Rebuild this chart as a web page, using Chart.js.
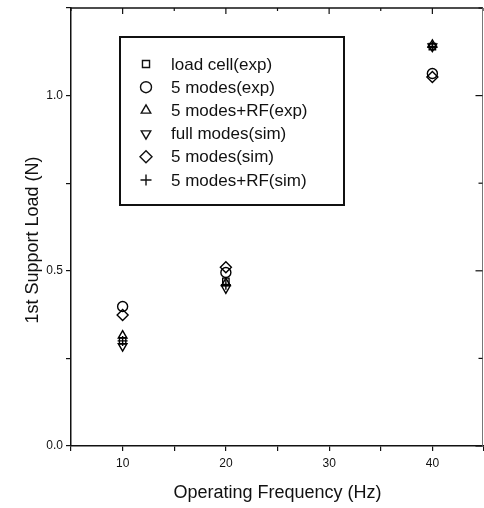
<!DOCTYPE html>
<html>
<head>
<meta charset="utf-8">
<script src="https://cdn.jsdelivr.net/npm/chart.js@4/dist/chart.umd.min.js"></script>
<style>
  html, body { margin: 0; padding: 0; background: #fff; }
  #wrap { width: 484px; height: 508px; }
</style>
</head>
<body>
<div id="wrap"><canvas id="grafico"></canvas></div>
<script>
// values
const freqs = [10, 20, 40];
const loadCellExp = [0.30, 0.47, 1.14];
const modes5Exp = [0.398, 0.495, 1.063];
const modes5RfExp = [0.315, 0.465, 1.145];
const fullModesSim = [0.285, 0.45, 1.14];
const modes5Sim = [0.374, 0.51, 1.053];
const modes5RfSim = [0.30, 0.46, 1.14];

const seriesNames = ["load cell(exp)", "5 modes(exp)", "5 modes+RF(exp)",
  "full modes(sim)", "5 modes(sim)", "5 modes+RF(sim)"];
const seriesValues = [loadCellExp, modes5Exp, modes5RfExp, fullModesSim, modes5Sim, modes5RfSim];
const styles = ["rect", "circle", "triangle", "triangle", "rectRot", "cross"];
const rotations = [0, 0, 0, 180, 0, 0];
const radii = [4.5, 5, 5, 5, 5.5, 5];

const xTickLabels = [10, 20, 30, 40];
const yTickLabels = [0.0, 0.5, 1.0];
const yTitle = "1st Support Load (N)";

const FONT = "'Liberation Sans', Arial, sans-serif";

function pts(vals) {
  return freqs.map((f, i) => ({ x: f, y: vals[i] }));
}

const datasets = seriesValues.map((vals, i) => ({
  label: seriesNames[i],
  data: pts(vals),
  pointStyle: styles[i],
  rotation: rotations[i],
  pointRadius: radii[i],
  pointBorderWidth: 1.4,
  borderColor: "#000",
  backgroundColor: "rgba(0,0,0,0)",
  showLine: false,
}));

// frame, inner ticks on top/right, y title and the boxed legend
const framePlugin = {
  id: "frame",
  afterDraw(chart) {
    const { ctx, chartArea: a, scales } = chart;
    ctx.save();
    ctx.strokeStyle = "#111";
    ctx.lineWidth = 1.5;
    ctx.beginPath();
    ctx.moveTo(a.left, a.top);
    ctx.lineTo(a.right - 1, a.top);
    ctx.stroke();
    ctx.strokeStyle = "#777";
    ctx.lineWidth = 1;
    ctx.beginPath();
    ctx.moveTo(a.right - 1.5, a.top);
    ctx.lineTo(a.right - 1.5, a.bottom);
    ctx.stroke();
    ctx.strokeStyle = "#111";
    ctx.lineWidth = 1.2;
    for (let v = 5; v <= 45; v += 5) {
      const px = scales.x.getPixelForValue(v);
      ctx.beginPath();
      ctx.moveTo(px, a.top);
      ctx.lineTo(px, a.top + (v % 10 === 0 ? 6 : 3));
      ctx.stroke();
    }
    for (let v = 0; v <= 1.25; v += 0.25) {
      const py = scales.y.getPixelForValue(v);
      ctx.beginPath();
      ctx.moveTo(a.right - 1.5, py);
      ctx.lineTo(a.right - 1.5 - (Math.abs(v * 2 - Math.round(v * 2)) < 1e-6 ? 7 : 4), py);
      ctx.stroke();
    }

    // y axis title, sits a bit below the middle of the axis
    ctx.save();
    ctx.translate(33, 240);
    ctx.rotate(-Math.PI / 2);
    ctx.font = "18px " + FONT;
    ctx.fillStyle = "#111";
    ctx.textAlign = "center";
    ctx.textBaseline = "middle";
    ctx.fillText(yTitle, 0, 0);
    ctx.restore();

    // legend box
    const bx = 120, by = 37, bw = 224, bh = 168;
    ctx.lineWidth = 2;
    ctx.strokeRect(bx, by, bw, bh);
    ctx.font = "17px " + FONT;
    ctx.textBaseline = "middle";
    seriesNames.forEach((name, i) => {
      const y = 64 + i * 23.2;
      ctx.lineWidth = 1.4;
      ctx.fillStyle = "rgba(0,0,0,0)";
      Chart.helpers.drawPoint(ctx, {
        pointStyle: styles[i],
        rotation: rotations[i],
        radius: radii[i] + 0.5,
        borderWidth: 1.4,
      }, 146, y);
      ctx.fillStyle = "#111";
      ctx.fillText(name, 171, y + 1);
    });
    ctx.restore();
  }
};

new Chart(document.getElementById("grafico").getContext("2d"), {
  type: "scatter",
  data: { datasets: datasets },
  options: {
    responsive: true,
    maintainAspectRatio: false,
    animation: false,
    layout: { autoPadding: false, padding: { top: 8, right: 0, left: 0, bottom: 0 } },
    plugins: {
      legend: { display: false },
      tooltip: { enabled: false },
    },
    scales: {
      x: {
        type: "linear",
        min: 5,
        max: 45,
        afterFit(scale) {
          scale.height = 62;
          scale.paddingLeft = 0;
          scale.paddingRight = 0;
        },
        border: { display: true, color: "#111", width: 1.5 },
        grid: { drawOnChartArea: false, color: "#111", tickLength: 5, lineWidth: 1.2 },
        ticks: {
          stepSize: 5,
          color: "#111",
          font: { family: FONT, size: 12 },
          padding: 5,
          maxRotation: 0,
          callback: (v) => (xTickLabels.includes(v) ? String(v) : ""),
        },
        title: {
          display: true,
          text: "Operating Frequency (Hz)",
          color: "#111",
          font: { family: FONT, size: 18 },
          padding: { top: 6 },
        },
      },
      y: {
        type: "linear",
        min: 0,
        max: 1.25,
        afterFit(scale) {
          scale.width = 71;
          scale.paddingTop = 0;
          scale.paddingBottom = 0;
        },
        border: { display: true, color: "#111", width: 1.5 },
        grid: { drawOnChartArea: false, color: "#111", tickLength: 5, lineWidth: 1.2 },
        ticks: {
          stepSize: 0.25,
          color: "#111",
          font: { family: FONT, size: 12 },
          padding: 3,
          callback: (v) => {
            const hit = yTickLabels.find((t) => Math.abs(t - v) < 1e-6);
            return hit === undefined ? "" : hit.toFixed(1);
          },
        },
      },
    },
  },
  plugins: [framePlugin],
});
</script>
</body>
</html>
